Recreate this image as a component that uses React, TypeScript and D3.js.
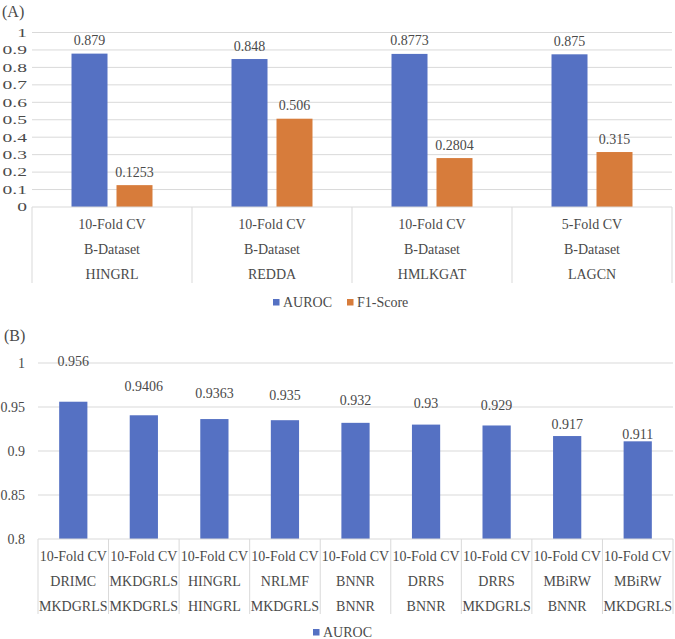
import { useRef, useEffect } from "react";
import * as d3 from "d3";

// Panel A: AUROC and F1 on the B-Dataset
const validationA = ["10-Fold CV", "10-Fold CV", "10-Fold CV", "5-Fold CV"];
const datasetA = ["B-Dataset", "B-Dataset", "B-Dataset", "B-Dataset"];
const methodA = ["HINGRL", "REDDA", "HMLKGAT", "LAGCN"];
const aurocA = [0.879, 0.848, 0.8773, 0.875];
const f1A = [0.1253, 0.506, 0.2804, 0.315];
const seriesA = ["AUROC", "F1-Score"];

// Panel B: AUROC across methods and datasets
const validationB = [
  "10-Fold CV", "10-Fold CV", "10-Fold CV", "10-Fold CV", "10-Fold CV",
  "10-Fold CV", "10-Fold CV", "10-Fold CV", "10-Fold CV",
];
const methodB = ["DRIMC", "MKDGRLS", "HINGRL", "NRLMF", "BNNR", "DRRS", "DRRS", "MBiRW", "MBiRW"];
const datasetB = ["MKDGRLS", "MKDGRLS", "HINGRL", "MKDGRLS", "BNNR", "BNNR", "MKDGRLS", "BNNR", "MKDGRLS"];
const aurocB = [0.956, 0.9406, 0.9363, 0.935, 0.932, 0.93, 0.929, 0.917, 0.911];

const W = 675;
const H = 639;
const BLUE = "#5571c3";
const ORANGE = "#d77c3b";
const GRID = "#d9d9d9";
const TEXT = "#4a4a4a";
const FONT = "Liberation Serif, Times New Roman, Tinos, DejaVu Serif, serif";

export default function App() {
  const svgRef = useRef<SVGSVGElement>(null);

  useEffect(() => {
    if (!svgRef.current) return;
    const svg = d3.select(svgRef.current);
    svg.selectAll("*").remove();

    const txt = (g: any, x: number, y: number, s: string, size = 14, anchor = "middle") =>
      g.append("text")
        .attr("x", x)
        .attr("y", y)
        .attr("text-anchor", anchor)
        .attr("dominant-baseline", "central")
        .attr("fill", TEXT)
        .style("font-size", `${size}px`)
        .style("font-family", FONT)
        .text(s);

    // ---------- Panel A ----------
    const a = svg.append("g");
    const idxA = methodA.map((_, i) => i);
    const xA = d3.scaleBand<number>().domain(idxA).range([32, 672]);
    const xSub = d3.scaleBand<string>()
      .domain(seriesA)
      .range([0, xA.bandwidth()])
      .paddingInner(0.2)
      .paddingOuter(0.878);
    const yA = d3.scaleLinear().domain([0, 1]).range([207, 32.5]);
    const ticksA = d3.range(0, 11).map((i) => i / 10);

    txt(a, 2, 11, "(A)", 16, "start");

    a.selectAll(".grid")
      .data(ticksA.slice(1))
      .join("line")
      .attr("x1", 32)
      .attr("x2", 672)
      .attr("y1", (d) => yA(d))
      .attr("y2", (d) => yA(d))
      .attr("stroke", GRID)
      .attr("stroke-width", 1);

    // tick labels on this panel are drawn wide
    ticksA.forEach((t) => {
      txt(a, 27, yA(t), d3.format("~g")(t), 13, "end")
        .attr("transform", `translate(27,0) scale(1.5,1) translate(-27,0)`);
    });

    const barsA = idxA.flatMap((i) => [
      { i, key: "AUROC", v: aurocA[i], color: BLUE },
      { i, key: "F1-Score", v: f1A[i], color: ORANGE },
    ]);

    a.selectAll(".bar")
      .data(barsA)
      .join("rect")
      .attr("x", (d) => (xA(d.i) || 0) + (xSub(d.key) || 0))
      .attr("y", (d) => yA(d.v))
      .attr("width", xSub.bandwidth())
      .attr("height", (d) => yA(0) - yA(d.v))
      .attr("fill", (d) => d.color);

    barsA.forEach((d) => {
      txt(a, (xA(d.i) || 0) + (xSub(d.key) || 0) + xSub.bandwidth() / 2, yA(d.v) - 13, String(d.v));
    });

    // category table under the axis
    const tableA = [validationA, datasetA, methodA];
    a.append("line")
      .attr("x1", 32).attr("x2", 672)
      .attr("y1", yA(0)).attr("y2", yA(0))
      .attr("stroke", GRID);
    [...idxA, idxA.length].forEach((i) => {
      const x = i < idxA.length ? xA(i) || 0 : 672;
      a.append("line")
        .attr("x1", x).attr("x2", x)
        .attr("y1", yA(0)).attr("y2", yA(0) + 76)
        .attr("stroke", GRID);
    });
    tableA.forEach((row, r) => {
      row.forEach((s, i) => {
        txt(a, (xA(i) || 0) + xA.bandwidth() / 2, yA(0) + 17 + r * 25, s);
      });
    });

    // legend
    const legA = [
      { key: "AUROC", color: BLUE, x: 273 },
      { key: "F1-Score", color: ORANGE, x: 347 },
    ];
    legA.forEach((l) => {
      a.append("rect").attr("x", l.x).attr("y", 299).attr("width", 6.5).attr("height", 6.5).attr("fill", l.color);
      txt(a, l.x + 10, 302.5, l.key, 14, "start");
    });

    // ---------- Panel B ----------
    const b = svg.append("g");
    const idxB = aurocB.map((_, i) => i);
    const xB = d3.scaleBand<number>().domain(idxB).range([38, 673]).paddingInner(0.6).paddingOuter(0.3);
    const cellB = (673 - 38) / idxB.length;
    const yB = d3.scaleLinear().domain([0.8, 1]).range([539, 363]);
    // labels are spread on a steeper scale so they fan out above the bars
    const labelB = d3.scaleLinear().domain([0.854, 0.9625]).range([539, 363]);
    const ticksB = d3.range(0, 5).map((i) => 0.8 + i * 0.05);

    txt(b, 4, 335, "(B)", 16, "start");

    b.selectAll(".grid")
      .data(ticksB.slice(1))
      .join("line")
      .attr("x1", 38)
      .attr("x2", 673)
      .attr("y1", (d) => yB(d))
      .attr("y2", (d) => yB(d))
      .attr("stroke", GRID)
      .attr("stroke-width", 1);

    ticksB.forEach((t) => {
      txt(b, 25, yB(t), d3.format(".2~f")(t), 14, "end");
    });

    b.selectAll(".bar")
      .data(idxB)
      .join("rect")
      .attr("x", (i) => xB(i) || 0)
      .attr("y", (i) => yB(aurocB[i]))
      .attr("width", xB.bandwidth())
      .attr("height", (i) => yB(0.8) - yB(aurocB[i]))
      .attr("fill", BLUE);

    idxB.forEach((i) => {
      txt(b, (xB(i) || 0) + xB.bandwidth() / 2, labelB(aurocB[i]) - 12, String(aurocB[i]));
    });

    const tableB = [validationB, methodB, datasetB];
    b.append("line")
      .attr("x1", 38).attr("x2", 673)
      .attr("y1", yB(0.8)).attr("y2", yB(0.8))
      .attr("stroke", GRID);
    d3.range(0, idxB.length + 1).forEach((i) => {
      const x = 38 + i * cellB;
      b.append("line")
        .attr("x1", x).attr("x2", x)
        .attr("y1", yB(0.8)).attr("y2", yB(0.8) + 75)
        .attr("stroke", GRID);
    });
    tableB.forEach((row, r) => {
      row.forEach((s, i) => {
        txt(b, 38 + (i + 0.5) * cellB, yB(0.8) + 17 + r * 25, s);
      });
    });

    b.append("rect").attr("x", 313).attr("y", 629).attr("width", 6.5).attr("height", 6.5).attr("fill", BLUE);
    txt(b, 323, 632.5, "AUROC", 14, "start");
  }, []);

  return (
    <svg
      ref={svgRef}
      width={W}
      height={H}
      style={{ position: "absolute", left: 0, top: 0, background: "#fff" }}
    />
  );
}
